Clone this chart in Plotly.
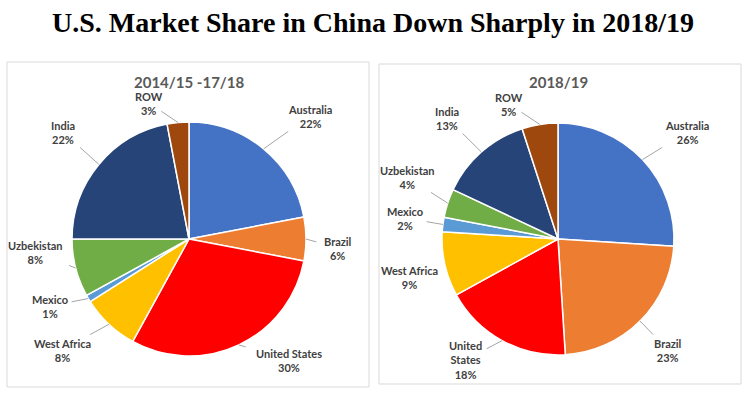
import math
import plotly.graph_objects as go

W, H = 745, 394

title = "U.S. Market Share in China Down Sharply in 2018/19"
categories = ["Australia", "Brazil", "United States", "West Africa", "Mexico", "Uzbekistan", "India", "ROW"]
left_title = "2014/15 -17/18"
left_values = [22, 6, 30, 8, 1, 8, 22, 3]
right_title = "2018/19"
right_values = [26, 23, 18, 9, 2, 4, 13, 5]
right_label_names = ["Australia", "Brazil", "United<br>States", "West Africa", "Mexico", "Uzbekistan", "India", "ROW"]

colors = ["#4472C4", "#ED7D31", "#FF0000", "#FFC000", "#5B9BD5", "#70AD47", "#264478", "#9E480E"]

# layout (pixels)
panels = [
    dict(values=left_values, names=categories, title=left_title, cx=189, cy=239, r=117,
         box=(7, 62, 369, 387),
         label_pos=[(310, 116), (338, 248), (289, 360), (62, 350), (50, 306), (35, 252), (63, 132), (149, 103)]),
    dict(values=right_values, names=right_label_names, title=right_title, cx=558, cy=239, r=116,
         box=(379, 64, 741, 384),
         label_pos=[(687, 132), (668, 350), (465, 360), (409, 277), (405, 218), (407, 177), (447, 118), (509, 104)]),
]

def px(x):
    return x / W

def py(y):
    return 1 - y / H

fig = go.Figure()
annotations = []
shapes = []

for p in panels:
    cx, cy, r = p["cx"], p["cy"], p["r"]
    fig.add_trace(go.Pie(
        labels=categories, values=p["values"], sort=False, direction="clockwise", rotation=0,
        marker=dict(colors=colors, line=dict(color="white", width=1.5)),
        textinfo="none", hoverinfo="label+percent", showlegend=False,
        domain=dict(x=[px(cx - r), px(cx + r)], y=[py(cy + r), py(cy - r)]),
    ))
    x0, y0, x1, y1 = p["box"]
    shapes.append(dict(type="rect", xref="paper", yref="paper", x0=px(x0), x1=px(x1), y0=py(y1), y1=py(y0),
                       line=dict(color="#D9D9D9", width=1), fillcolor="rgba(0,0,0,0)", layer="below"))
    annotations.append(dict(text=p["title"], x=px(cx), y=py(82), xref="paper", yref="paper",
                            showarrow=False, xanchor="center", yanchor="middle",
                            font=dict(family="Lato", size=15, color="#595959", weight="bold")))
    total = sum(p["values"])
    cum = 0
    for i, v in enumerate(p["values"]):
        f = (cum + v / 2) / total
        cum += v
        th = 2 * math.pi * f
        ex, ey = cx + r * math.sin(th), cy - r * math.cos(th)
        lx, ly = p["label_pos"][i]
        name = p["names"][i]
        lines = name.split("<br>") + [f"{v}%"]
        hw = max(len(s) for s in lines) * 3.1 + 3
        hh = len(lines) * 6.7 + 2
        dx, dy = ex - lx, ey - ly
        t = min(hw / abs(dx) if dx else 1e9, hh / abs(dy) if dy else 1e9)
        if t < 1:
            sx, sy = lx + dx * t, ly + dy * t
            shapes.append(dict(type="line", xref="paper", yref="paper", x0=px(sx), y0=py(sy),
                               x1=px(ex), y1=py(ey), line=dict(color="#A6A6A6", width=1)))
        annotations.append(dict(text="<br>".join(lines), x=px(lx), y=py(ly), xref="paper", yref="paper",
                                showarrow=False, xanchor="center", yanchor="middle", align="center",
                                font=dict(family="Lato", size=11, color="#404040", weight="bold")))

annotations.append(dict(text="<b>" + title + "</b>", x=0.5, y=py(22), xref="paper", yref="paper",
                        showarrow=False, xanchor="center", yanchor="middle",
                        font=dict(family="Liberation Serif", size=28, color="black")))

fig.update_layout(width=W, height=H, margin=dict(l=0, r=0, t=0, b=0),
                  paper_bgcolor="white", plot_bgcolor="white",
                  annotations=annotations, shapes=shapes)

fig.write_html("out.html", config={"displayModeBar": False},
               post_script="document.body.style.margin='0px';")
